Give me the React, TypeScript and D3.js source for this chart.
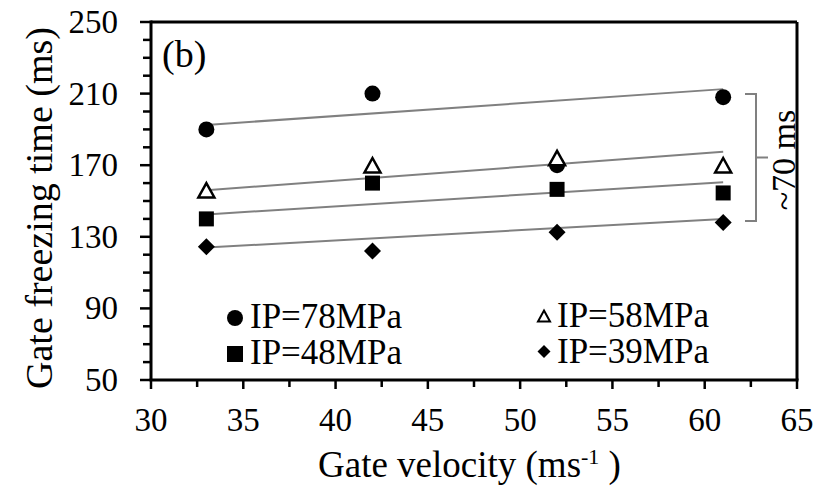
import React from "react";
import * as d3 from "d3";

const velocities = [33, 42, 52, 61];
const ip78 = [190, 210, 170, 208];
const ip58 = [156, 170, 174, 170];
const ip48 = [140, 160, 156.5, 154.5];
const ip39 = [124.5, 122, 132.5, 138];
const trendX = [33, 61];
const trend78 = [192.5, 212.5];
const trend58 = [156, 177.5];
const trend48 = [142.5, 160.5];
const trend39 = [124, 140];
const xTicks = [30, 35, 40, 45, 50, 55, 60, 65];
const yTicks = [50, 90, 130, 170, 210, 250];
const legendLabels = ["IP=78MPa", "IP=58MPa", "IP=48MPa", "IP=39MPa"];

const W = 825, H = 491;
const L = 151, R = 797, T = 22, B = 380;
const ts: React.CSSProperties = { fontFamily: "'Times New Roman', 'Liberation Serif', serif" };

function Marker({ kind, x, y, s }: { kind: string; x: number; y: number; s: number }) {
  if (kind === "circle") return <circle cx={x} cy={y} r={s / 2} fill="#000" />;
  if (kind === "square") return <rect x={x - s / 2} y={y - s / 2} width={s} height={s} fill="#000" />;
  if (kind === "triangle") {
    const h = s * 0.9;
    const p = `${x},${y - h / 2} ${x + s / 2},${y + h / 2} ${x - s / 2},${y + h / 2}`;
    return <polygon points={p} fill="#fff" stroke="#000" strokeWidth={s > 13 ? 2.5 : 2} strokeLinejoin="miter" />;
  }
  const p = `${x},${y - s / 2} ${x + s / 2},${y} ${x},${y + s / 2} ${x - s / 2},${y}`;
  return <polygon points={p} fill="#000" />;
}

export default function App() {
  const x = d3.scaleLinear().domain([30, 65]).range([L, R]);
  const y = d3.scaleLinear().domain([50, 250]).range([B, T]);
  const series = [
    { kind: "circle", vals: ip78, trend: trend78, size: 16 },
    { kind: "triangle", vals: ip58, trend: trend58, size: 16 },
    { kind: "square", vals: ip48, trend: trend48, size: 15 },
    { kind: "diamond", vals: ip39, trend: trend39, size: 17 },
  ];
  const line = d3.line<number>().x((_, i) => x(trendX[i])).y((d) => y(d));
  const xMinor = d3.range(32.5, 65, 5);
  const yMinor = d3.range(50, 250.01, 10).filter((v) => !yTicks.includes(v));
  const legend = [
    { kind: "circle", label: legendLabels[0], lx: 235, ly: 318, s: 16, tx: 250, ty: 328 },
    { kind: "triangle", label: legendLabels[1], lx: 544, ly: 316, s: 12, tx: 557, ty: 327 },
    { kind: "square", label: legendLabels[2], lx: 235, ly: 354, s: 16, tx: 250, ty: 364 },
    { kind: "diamond", label: legendLabels[3], lx: 544, ly: 351.5, s: 13, tx: 557, ty: 363 },
  ];
  return (
    <svg width={W} height={H} style={{ position: "absolute", left: 0, top: 0, background: "#fff" }}>
      <rect width={W} height={H} fill="#fff" />
      {series.map((s, i) => (
        <path key={"t" + i} d={line(s.trend) || ""} fill="none" stroke="#808080" strokeWidth={2} />
      ))}
      {series.map((s, i) =>
        s.vals.map((v, j) => <Marker key={`m${i}-${j}`} kind={s.kind} x={x(velocities[j])} y={y(v)} s={s.size} />)
      )}
      <line x1={L} x2={R} y1={T} y2={T} stroke="#000" strokeWidth={3} />
      <line x1={R} x2={R} y1={T} y2={B} stroke="#000" strokeWidth={3} />
      <line x1={L - 1.5} x2={R + 1.5} y1={B} y2={B} stroke="#000" strokeWidth={3} />
      <line x1={L} x2={L} y1={T - 1.5} y2={B} stroke="#000" strokeWidth={3} />
      {yMinor.map((v) => (
        <line key={"ym" + v} x1={L - 8} x2={L} y1={y(v)} y2={y(v)} stroke="#000" strokeWidth={2.5} />
      ))}
      {yTicks.map((v) => (
        <line key={"yM" + v} x1={L - 11} x2={L} y1={y(v)} y2={y(v)} stroke="#000" strokeWidth={2.5} />
      ))}
      {yTicks.map((v) => (
        <text key={"yt" + v} style={ts} x={118} y={y(v) + 11} textAnchor="end" fontSize={33}>
          {v}
        </text>
      ))}
      {xMinor.map((v) => (
        <line key={"xm" + v} x1={x(v)} x2={x(v)} y1={B} y2={B + 7} stroke="#000" strokeWidth={2.5} />
      ))}
      {xTicks.map((v) => (
        <line key={"xM" + v} x1={x(v)} x2={x(v)} y1={B} y2={B + 9} stroke="#000" strokeWidth={2.5} />
      ))}
      {xTicks.map((v) => (
        <text key={"xt" + v} style={ts} x={x(v)} y={431} textAnchor="middle" fontSize={33}>
          {v}
        </text>
      ))}
      <text style={ts} transform={`translate(52,208) rotate(-90)`} textAnchor="middle" fontSize={38}>
        Gate freezing time (ms)
      </text>
      <text style={ts} x={318} y={477} textAnchor="start" fontSize={37}>
        Gate velocity (ms
        <tspan dy={-13} fontSize={22}>-1</tspan>
        <tspan dy={13}> )</tspan>
      </text>
      <text style={ts} x={162} y={67} fontSize={38}>(b)</text>
      {legend.map((l) => (
        <g key={l.label}>
          <Marker kind={l.kind} x={l.lx} y={l.ly} s={l.s} />
          <text style={ts} x={l.tx} y={l.ty} fontSize={35}>
            {l.label}
          </text>
        </g>
      ))}
      <path d="M745,94 H756 V221 H745 M756,157.5 H768" fill="none" stroke="#808080" strokeWidth={2} />
      <text style={ts} transform={`translate(795,160) rotate(-90)`} textAnchor="middle" fontSize={34}>
        ~70 ms
      </text>
    </svg>
  );
}
